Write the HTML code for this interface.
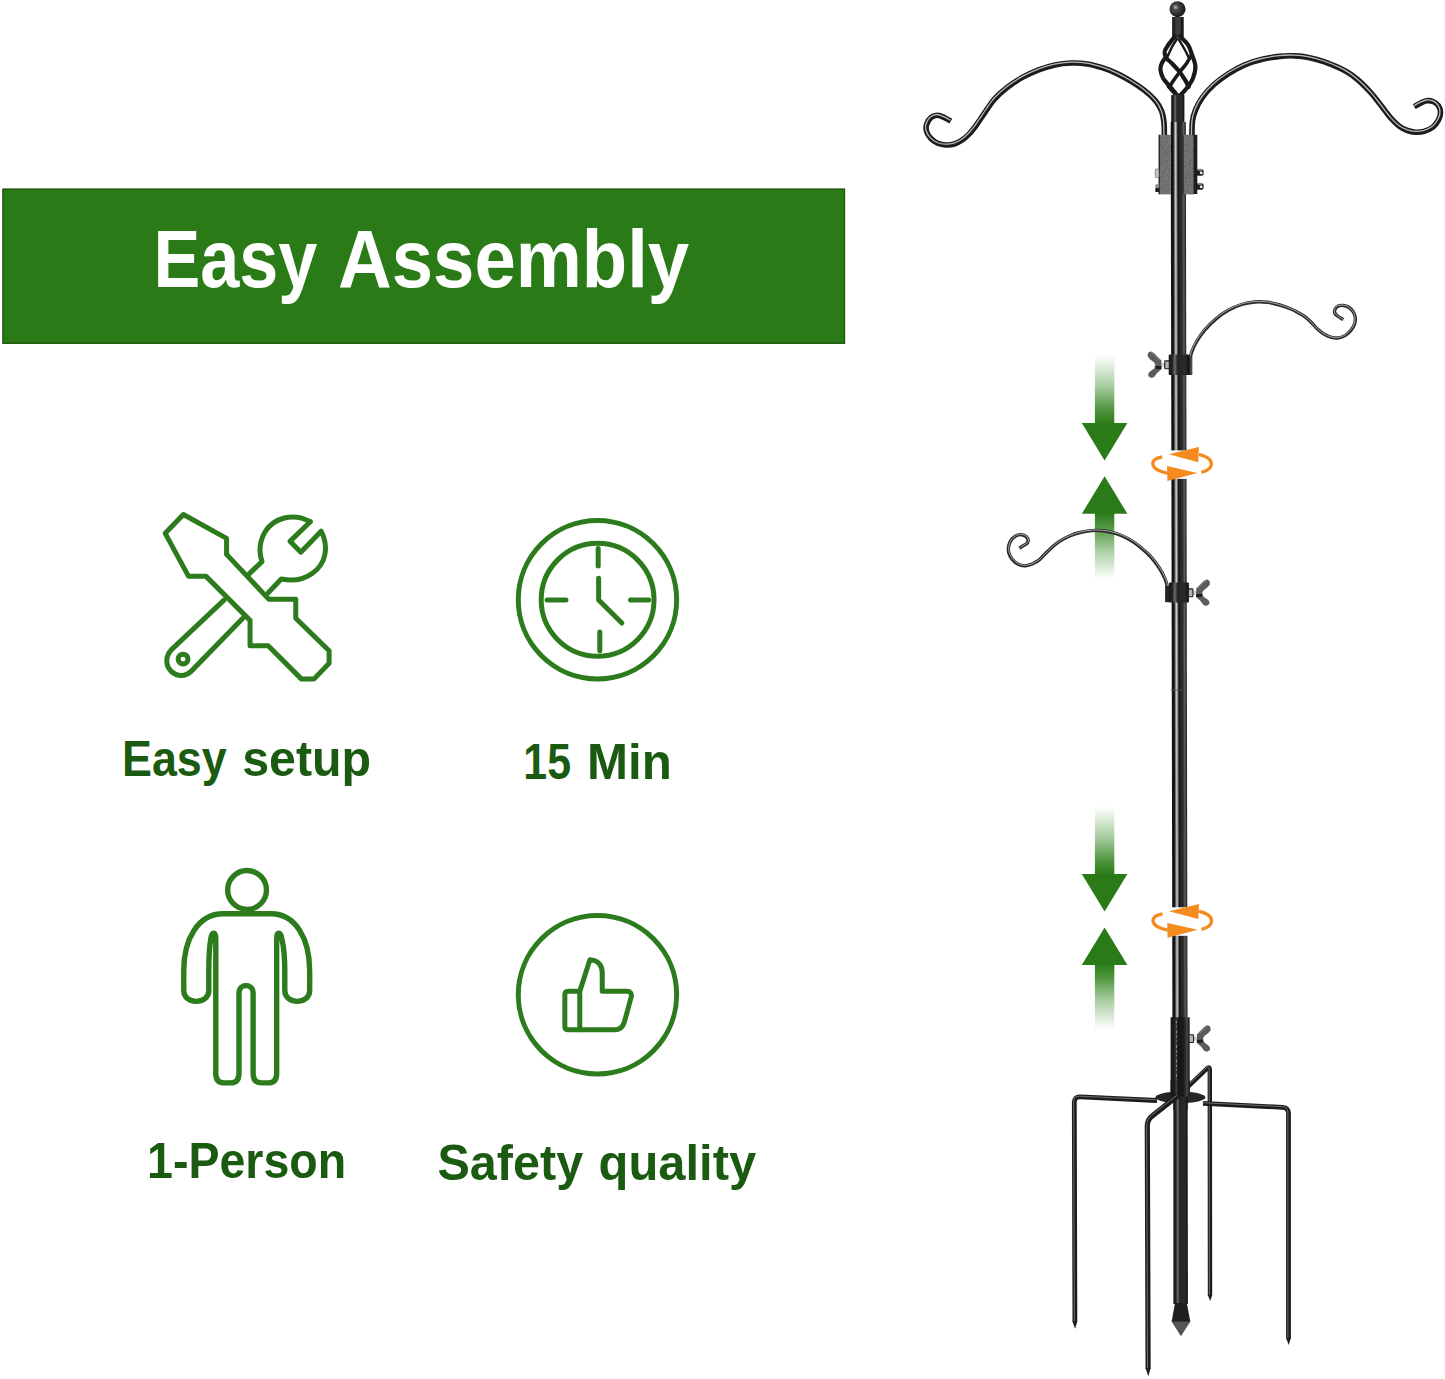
<!DOCTYPE html>
<html lang="en">
<head>
<meta charset="utf-8">
<title>Easy Assembly</title>
<style>
html,body{margin:0;padding:0;background:#fff;}
body{width:1445px;height:1379px;overflow:hidden;font-family:"Liberation Sans",sans-serif;}
svg{display:block;}
text{font-family:"Liberation Sans",sans-serif;font-weight:bold;font-kerning:none;}
</style>
</head>
<body>
<svg width="1445" height="1379" viewBox="0 0 1445 1379">
<rect x="2.4" y="188.6" width="842.7" height="155.3" fill="#2b7a18"/>
<rect x="3.1" y="189.3" width="841.3" height="153.9" fill="none" stroke="#1e5a10" stroke-width="1.4"/>
<text y="287.3" font-size="81.5" fill="#ffffff" ><tspan x="153.4" textLength="163.87" lengthAdjust="spacingAndGlyphs">Easy</tspan> <tspan x="338.1" textLength="351.05" lengthAdjust="spacingAndGlyphs">Assembly</tspan></text>
<text y="775.6" font-size="49.5" fill="#1b5a11" ><tspan x="122" textLength="104.74" lengthAdjust="spacingAndGlyphs">Easy</tspan> <tspan x="242.2" textLength="128.88" lengthAdjust="spacingAndGlyphs">setup</tspan></text>
<text y="778.6" font-size="50.5" fill="#1b5a11" ><tspan x="523.3" textLength="47.69" lengthAdjust="spacingAndGlyphs">15</tspan> <tspan x="587.1" textLength="84.75" lengthAdjust="spacingAndGlyphs">Min</tspan></text>
<text y="1178.2" font-size="50" fill="#1b5a11" ><tspan x="147" textLength="199.22" lengthAdjust="spacingAndGlyphs">1-Person</tspan></text>
<text y="1179.6" font-size="50" fill="#1b5a11" ><tspan x="437.5" textLength="145.66" lengthAdjust="spacingAndGlyphs">Safety</tspan> <tspan x="598.6" textLength="157.57" lengthAdjust="spacingAndGlyphs">quality</tspan></text>
<g fill="none" stroke="#2c7b1d" stroke-width="5" stroke-linejoin="round" stroke-linecap="round">
<g transform="translate(150,500) scale(0.14503)" stroke-width="34.5">
<path d="M1105 150 C990 85 850 120 790 225 C755 290 750 360 772 425 L685 508"/>
<path d="M1105 150 L965 285 L1040 360 L1180 215 C1235 320 1215 440 1120 505 C1060 550 980 560 905 545 L815 640"/>
<path d="M510 690 L150 1030 C105 1075 105 1140 145 1180 C185 1220 245 1220 285 1180 L640 815"/>
<circle cx="228" cy="1097" r="34"/>
<path d="M230 100 L528 265 L528 375 L820 685 L1005 685 L1005 815 L1235 1040 L1235 1125 L1130 1235 L1045 1235 L815 1005 L690 1005 L690 830 L385 525 L265 525 L105 230 Z"/>
</g>
</g>
<g fill="none" stroke="#2c7b1d" stroke-width="5" stroke-linejoin="round" stroke-linecap="round">
<g transform="translate(500,500) scale(0.14503)" stroke-width="34.5">
<circle cx="672" cy="688" r="546"/>
<circle cx="673" cy="688" r="389"/>
<path d="M677 335 V455 M688 910 V1040 M325 690 H455 M900 690 H1025"/>
<path d="M680 540 V690 L840 848"/>
</g>
</g>
<g fill="none" stroke="#2c7b1d" stroke-width="5" stroke-linejoin="round" stroke-linecap="round">
<g transform="translate(140,850) scale(0.18852)" stroke-width="28.6">
<circle cx="568" cy="212" r="103"/>
<path d="M568 338 H440 C310 338 232 470 232 640 V745 C232 822 365 822 365 745 V640 C365 560 368 510 376 470 C381 432 402 432 402 470 V1185 Q402 1235 447 1235 H480 Q525 1235 525 1185 V760 C525 705 600 705 600 760 V1185 Q600 1235 645 1235 H680 Q725 1235 725 1185 V470 C725 432 746 432 752 470 C762 510 768 560 768 640 V745 C768 822 900 822 900 745 V640 C900 470 825 338 695 338 Z"/>
</g>
</g>
<g fill="none" stroke="#2c7b1d" stroke-width="5" stroke-linejoin="round" stroke-linecap="round">
<g transform="translate(500,900) scale(0.14503)" stroke-width="34.5">
<circle cx="672" cy="653" r="546"/>
<path d="M550 630 H470 C455 630 447 640 447 655 V870 C447 885 455 895 470 895 H550"/>
<path d="M550 895 V630 L620 412 C670 415 705 445 705 500 V630 H875 C898 630 910 645 905 668 L858 840 C848 875 825 895 790 895 Z"/>
</g>
</g>
<defs>
<linearGradient id="pg" x1="0" x2="1" y1="0" y2="0"><stop offset="0" stop-color="#1c1c1c"/><stop offset="0.06" stop-color="#0e0e0e"/><stop offset="0.17" stop-color="#1a1a1a"/><stop offset="0.25" stop-color="#868686"/><stop offset="0.32" stop-color="#cccccc"/><stop offset="0.39" stop-color="#868686"/><stop offset="0.47" stop-color="#121212"/><stop offset="0.56" stop-color="#222222"/><stop offset="0.74" stop-color="#303030"/><stop offset="0.85" stop-color="#5c5c5c"/><stop offset="0.93" stop-color="#3c3c3c"/><stop offset="1" stop-color="#181818"/></linearGradient>
<linearGradient id="pg2" x1="0" x2="1" y1="0" y2="0"><stop offset="0" stop-color="#161616"/><stop offset="0.18" stop-color="#262626"/><stop offset="0.3" stop-color="#6c6c6c"/><stop offset="0.43" stop-color="#262626"/><stop offset="0.8" stop-color="#2a2a2a"/><stop offset="1" stop-color="#101010"/></linearGradient>
<linearGradient id="pg3" x1="0" x2="1" y1="0" y2="0"><stop offset="0" stop-color="#161616"/><stop offset="0.2" stop-color="#1c1c1c"/><stop offset="0.3" stop-color="#3c3c3c"/><stop offset="0.42" stop-color="#141414"/><stop offset="0.7" stop-color="#1c1c1c"/><stop offset="0.86" stop-color="#474747"/><stop offset="1" stop-color="#161616"/></linearGradient>
<linearGradient id="ga" x1="0" x2="0" y1="0" y2="1"><stop offset="0" stop-color="#31861d" stop-opacity="0"/><stop offset="0.12" stop-color="#31861d" stop-opacity="0.1"/><stop offset="0.45" stop-color="#31861d" stop-opacity="0.42"/><stop offset="0.8" stop-color="#2f821b" stop-opacity="0.85"/><stop offset="1" stop-color="#2b7a18" stop-opacity="1"/></linearGradient>
<linearGradient id="gb" x1="0" x2="0" y1="1" y2="0"><stop offset="0" stop-color="#31861d" stop-opacity="0"/><stop offset="0.12" stop-color="#31861d" stop-opacity="0.1"/><stop offset="0.45" stop-color="#31861d" stop-opacity="0.42"/><stop offset="0.8" stop-color="#2f821b" stop-opacity="0.85"/><stop offset="1" stop-color="#2b7a18" stop-opacity="1"/></linearGradient>
<radialGradient id="ball" cx="0.38" cy="0.38" r="0.7"><stop offset="0" stop-color="#bdbdbd"/><stop offset="0.25" stop-color="#4a4a4a"/><stop offset="1" stop-color="#0d0d0d"/></radialGradient>
<pattern id="tex" width="3" height="3" patternUnits="userSpaceOnUse"><rect width="3" height="3" fill="#6a6a6a"/><rect width="1.5" height="1.5" fill="#3c3c3c"/><rect x="1.5" y="1.5" width="1.5" height="1.5" fill="#8c8c8c"/></pattern>
<filter id="noise" x="0" y="0" width="1" height="1"><feTurbulence type="fractalNoise" baseFrequency="0.7" numOctaves="2" seed="7" result="n"/><feColorMatrix in="n" type="matrix" values="0 0 0 0 0.13  0 0 0 0 0.13  0 0 0 0 0.13  2.6 2.6 0 0 -2.2" result="g"/><feComposite in="g" in2="SourceGraphic" operator="in" result="sp"/><feMerge><feMergeNode in="SourceGraphic"/><feMergeNode in="sp"/></feMerge></filter>
</defs>
<rect x="1094.9" y="355" width="19.4" height="69" fill="url(#ga)"/>
<path d="M1081.8 423H1127.4L1104.6 460.4Z" fill="#2b7a18"/>
<rect x="1094.9" y="512.8" width="19.4" height="67.2" fill="url(#gb)"/>
<path d="M1081.8 513.8H1127.4L1104.6 476.2Z" fill="#2b7a18"/>
<rect x="1094.9" y="806" width="19.4" height="69.1" fill="url(#ga)"/>
<path d="M1081.8 874.1H1127.4L1104.6 911.5Z" fill="#2b7a18"/>
<rect x="1094.9" y="963.9" width="19.4" height="66.1" fill="url(#gb)"/>
<path d="M1081.8 964.9H1127.4L1104.6 927.5Z" fill="#2b7a18"/>
<path d="M950.8 121.1C949.8 120.5 946.8 118.7 944.6 117.7C942.4 116.7 940 115.3 937.7 115.3C935.4 115.3 932.6 116.2 930.8 117.7C928.9 119.2 927.3 122.3 926.6 124.6C925.9 126.9 925.9 129.2 926.6 131.5C927.3 133.8 928.9 136.4 930.8 138.4C932.6 140.4 935.2 142.2 937.7 143.3C940.2 144.4 943.2 144.9 946 145C948.8 145.1 951.5 144.9 954.3 144C957.1 143.1 960.1 141.5 962.6 139.8C965.1 138.1 967.3 135.9 969.5 133.6C971.7 131.3 973.5 129 975.7 126C977.9 123 980.5 118.9 982.7 115.6C985 112.3 987.2 109 989.2 106.2C991.2 103.4 992 101.7 995 98.5C998 95.3 1002.9 90.8 1007.5 87.3C1012.1 83.8 1017.2 80.3 1022.4 77.4C1027.6 74.5 1033.2 72 1038.6 69.9C1044 67.8 1049.4 66.1 1054.8 64.9C1060.2 63.8 1065.6 63.2 1071 63C1076.4 62.8 1082 63.1 1087.2 63.9C1092.4 64.7 1097.1 66.1 1102.1 67.7C1107.1 69.3 1112.3 71.4 1117.1 73.6C1121.9 75.8 1126.2 78.3 1130.8 81.1C1135.4 83.9 1140.3 87.1 1144.5 90.4C1148.7 93.7 1152.9 97.6 1155.7 101C1158.5 104.4 1160.2 107.5 1161.6 111C1163 114.5 1163.5 117.9 1164 122.2C1164.5 126.5 1164.3 134.5 1164.4 137" fill="none" stroke="#1c1c1c" stroke-width="5.6" stroke-linecap="butt" stroke-linejoin="round"/>
<path d="M950.8 121.1C949.8 120.5 946.8 118.7 944.6 117.7C942.4 116.7 940 115.3 937.7 115.3C935.4 115.3 932.6 116.2 930.8 117.7C928.9 119.2 927.3 122.3 926.6 124.6C925.9 126.9 925.9 129.2 926.6 131.5C927.3 133.8 928.9 136.4 930.8 138.4C932.6 140.4 935.2 142.2 937.7 143.3C940.2 144.4 943.2 144.9 946 145C948.8 145.1 951.5 144.9 954.3 144C957.1 143.1 960.1 141.5 962.6 139.8C965.1 138.1 967.3 135.9 969.5 133.6C971.7 131.3 973.5 129 975.7 126C977.9 123 980.5 118.9 982.7 115.6C985 112.3 987.2 109 989.2 106.2C991.2 103.4 992 101.7 995 98.5C998 95.3 1002.9 90.8 1007.5 87.3C1012.1 83.8 1017.2 80.3 1022.4 77.4C1027.6 74.5 1033.2 72 1038.6 69.9C1044 67.8 1049.4 66.1 1054.8 64.9C1060.2 63.8 1065.6 63.2 1071 63C1076.4 62.8 1082 63.1 1087.2 63.9C1092.4 64.7 1097.1 66.1 1102.1 67.7C1107.1 69.3 1112.3 71.4 1117.1 73.6C1121.9 75.8 1126.2 78.3 1130.8 81.1C1135.4 83.9 1140.3 87.1 1144.5 90.4C1148.7 93.7 1152.9 97.6 1155.7 101C1158.5 104.4 1160.2 107.5 1161.6 111C1163 114.5 1163.5 117.9 1164 122.2C1164.5 126.5 1164.3 134.5 1164.4 137" fill="none" stroke="#e0e0e0" stroke-opacity="0.8" stroke-width="1.3" stroke-linecap="butt" transform="translate(-0.5,-0.8)"/>
<path d="M1191.9 137C1192 134.3 1191.9 125.5 1192.5 121C1193.1 116.5 1193.9 113.8 1195.6 109.8C1197.2 105.8 1199.4 101.5 1202.4 97.3C1205.4 93.1 1209.3 88.8 1213.7 84.8C1218.1 80.8 1223.4 76.9 1228.6 73.6C1233.8 70.3 1239.2 67.3 1244.8 64.9C1250.4 62.5 1256.4 60.7 1262.2 59.3C1268 57.9 1274.3 57 1279.7 56.4C1285.1 55.8 1289.6 55.7 1294.6 55.9C1299.6 56.1 1304.6 56.7 1309.6 57.7C1314.6 58.7 1319.5 60.1 1324.5 61.8C1329.5 63.5 1335.4 66.1 1339.5 68C1343.6 69.9 1346 71.3 1349 73.2C1352 75.1 1354.9 77.4 1357.5 79.5C1360.1 81.6 1362 83.5 1364.5 86C1367 88.5 1369.8 91.4 1372.2 94.2C1374.6 97 1376.8 100 1379 102.8C1381.2 105.6 1383.2 108.4 1385.3 111.1C1387.4 113.8 1389.5 116.7 1391.8 119.2C1394.1 121.7 1396.7 124.3 1399.3 126.2C1401.9 128.1 1404.6 129.5 1407.3 130.5C1410 131.5 1412.7 132.1 1415.6 132.2C1418.5 132.3 1421.7 132 1424.6 131.2C1427.5 130.3 1430.6 128.9 1432.9 127.1C1435.2 125.2 1437.1 122.5 1438.4 120.1C1439.7 117.7 1440.5 114.9 1440.5 112.5C1440.5 110.1 1439.7 107.4 1438.4 105.6C1437.1 103.8 1434.9 102.3 1432.9 101.5C1431 100.7 1428.8 100.5 1426.7 100.8C1424.6 101.1 1422.5 102.2 1420.4 103.2C1418.3 104.2 1415.2 106 1414.2 106.6" fill="none" stroke="#1c1c1c" stroke-width="5.6" stroke-linecap="butt" stroke-linejoin="round"/>
<path d="M1191.9 137C1192 134.3 1191.9 125.5 1192.5 121C1193.1 116.5 1193.9 113.8 1195.6 109.8C1197.2 105.8 1199.4 101.5 1202.4 97.3C1205.4 93.1 1209.3 88.8 1213.7 84.8C1218.1 80.8 1223.4 76.9 1228.6 73.6C1233.8 70.3 1239.2 67.3 1244.8 64.9C1250.4 62.5 1256.4 60.7 1262.2 59.3C1268 57.9 1274.3 57 1279.7 56.4C1285.1 55.8 1289.6 55.7 1294.6 55.9C1299.6 56.1 1304.6 56.7 1309.6 57.7C1314.6 58.7 1319.5 60.1 1324.5 61.8C1329.5 63.5 1335.4 66.1 1339.5 68C1343.6 69.9 1346 71.3 1349 73.2C1352 75.1 1354.9 77.4 1357.5 79.5C1360.1 81.6 1362 83.5 1364.5 86C1367 88.5 1369.8 91.4 1372.2 94.2C1374.6 97 1376.8 100 1379 102.8C1381.2 105.6 1383.2 108.4 1385.3 111.1C1387.4 113.8 1389.5 116.7 1391.8 119.2C1394.1 121.7 1396.7 124.3 1399.3 126.2C1401.9 128.1 1404.6 129.5 1407.3 130.5C1410 131.5 1412.7 132.1 1415.6 132.2C1418.5 132.3 1421.7 132 1424.6 131.2C1427.5 130.3 1430.6 128.9 1432.9 127.1C1435.2 125.2 1437.1 122.5 1438.4 120.1C1439.7 117.7 1440.5 114.9 1440.5 112.5C1440.5 110.1 1439.7 107.4 1438.4 105.6C1437.1 103.8 1434.9 102.3 1432.9 101.5C1431 100.7 1428.8 100.5 1426.7 100.8C1424.6 101.1 1422.5 102.2 1420.4 103.2C1418.3 104.2 1415.2 106 1414.2 106.6" fill="none" stroke="#e0e0e0" stroke-opacity="0.8" stroke-width="1.3" stroke-linecap="butt" transform="translate(-0.5,-0.8)"/>
<path d="M1190.4 374C1190.3 371.8 1189.8 364.2 1190 360.6C1190.2 357 1190.5 355.5 1191.6 352.3C1192.7 349.1 1194.4 345.2 1196.6 341.5C1198.8 337.8 1201.7 333.6 1204.9 329.9C1208.1 326.2 1211.8 322.4 1215.7 319.1C1219.6 315.8 1223.9 312.7 1228.2 310.3C1232.5 307.9 1237.1 305.9 1241.5 304.5C1245.9 303.1 1250.5 302.4 1254.8 302C1259.1 301.6 1263 301.8 1267.2 302.3C1271.4 302.8 1275.9 303.9 1279.7 305C1283.5 306.1 1287.4 307.6 1290.3 308.8C1293.2 310 1294.7 310.7 1297 312C1299.3 313.3 1302 314.6 1304.4 316.4C1306.8 318.2 1309.4 320.5 1311.6 322.7C1313.8 324.9 1315.6 327.4 1317.7 329.3C1319.8 331.2 1322 333 1324.3 334.3C1326.6 335.6 1329.1 336.7 1331.5 337.3C1333.9 337.9 1336.4 338.2 1338.7 337.9C1341 337.6 1343.4 336.6 1345.4 335.4C1347.4 334.1 1349.4 332.2 1350.9 330.4C1352.4 328.5 1353.8 326.4 1354.5 324.3C1355.2 322.2 1355.5 319.8 1355.3 317.7C1355.1 315.6 1354.2 313.4 1353.1 311.6C1352 309.9 1350.3 308.2 1348.7 307.2C1347.1 306.2 1345 305.7 1343.2 305.5C1341.5 305.3 1339.6 305.5 1338.2 306.1C1336.8 306.8 1335.5 308.2 1334.9 309.4C1334.4 310.6 1334.5 312.2 1334.9 313.3C1335.4 314.4 1336.2 314.9 1337.6 316C1339 317.1 1342.3 319 1343.2 319.6" fill="none" stroke="#2a2a2a" stroke-width="3.4" stroke-linecap="butt" stroke-linejoin="round"/>
<path d="M1190.4 374C1190.3 371.8 1189.8 364.2 1190 360.6C1190.2 357 1190.5 355.5 1191.6 352.3C1192.7 349.1 1194.4 345.2 1196.6 341.5C1198.8 337.8 1201.7 333.6 1204.9 329.9C1208.1 326.2 1211.8 322.4 1215.7 319.1C1219.6 315.8 1223.9 312.7 1228.2 310.3C1232.5 307.9 1237.1 305.9 1241.5 304.5C1245.9 303.1 1250.5 302.4 1254.8 302C1259.1 301.6 1263 301.8 1267.2 302.3C1271.4 302.8 1275.9 303.9 1279.7 305C1283.5 306.1 1287.4 307.6 1290.3 308.8C1293.2 310 1294.7 310.7 1297 312C1299.3 313.3 1302 314.6 1304.4 316.4C1306.8 318.2 1309.4 320.5 1311.6 322.7C1313.8 324.9 1315.6 327.4 1317.7 329.3C1319.8 331.2 1322 333 1324.3 334.3C1326.6 335.6 1329.1 336.7 1331.5 337.3C1333.9 337.9 1336.4 338.2 1338.7 337.9C1341 337.6 1343.4 336.6 1345.4 335.4C1347.4 334.1 1349.4 332.2 1350.9 330.4C1352.4 328.5 1353.8 326.4 1354.5 324.3C1355.2 322.2 1355.5 319.8 1355.3 317.7C1355.1 315.6 1354.2 313.4 1353.1 311.6C1352 309.9 1350.3 308.2 1348.7 307.2C1347.1 306.2 1345 305.7 1343.2 305.5C1341.5 305.3 1339.6 305.5 1338.2 306.1C1336.8 306.8 1335.5 308.2 1334.9 309.4C1334.4 310.6 1334.5 312.2 1334.9 313.3C1335.4 314.4 1336.2 314.9 1337.6 316C1339 317.1 1342.3 319 1343.2 319.6" fill="none" stroke="#d8d8d8" stroke-opacity="0.8" stroke-width="0.9" stroke-linecap="butt" transform="translate(-0.3,-0.45)"/>
<path d="M1167.1 602C1167.1 599.4 1167.5 590.4 1167.1 586.4C1166.7 582.4 1166.1 581.3 1164.7 578.1C1163.3 574.9 1161.2 570.9 1158.8 567.3C1156.4 563.7 1153.7 560 1150.5 556.5C1147.3 553 1143.4 549.6 1139.7 546.6C1136 543.6 1132.1 540.9 1128.1 538.7C1124.1 536.5 1119.8 534.6 1115.6 533.3C1111.4 532 1107.2 531.2 1103.2 530.8C1099.2 530.3 1095.5 530.3 1091.6 530.6C1087.7 530.9 1083.7 531.6 1079.9 532.5C1076.2 533.4 1072.5 534.7 1069.1 536.2C1065.7 537.7 1062.4 539.4 1059.5 541.3C1056.6 543.2 1054 545.5 1051.5 547.7C1049 549.9 1046.8 552.3 1044.8 554.3C1042.8 556.3 1041.3 558.3 1039.3 559.9C1037.3 561.5 1035 562.7 1032.7 563.7C1030.4 564.7 1027.9 565.6 1025.5 565.7C1023.1 565.8 1020.5 565.4 1018.3 564.3C1016.1 563.2 1013.8 561.2 1012.2 559.3C1010.6 557.4 1009.4 555 1008.8 552.7C1008.2 550.4 1008.3 547.7 1008.8 545.5C1009.3 543.3 1010.3 541.1 1011.6 539.4C1012.9 537.7 1014.9 536.3 1016.6 535.5C1018.3 534.7 1020 534.5 1021.6 534.7C1023.2 534.9 1024.9 535.6 1026 536.6C1027.1 537.6 1028.1 539.3 1028.2 540.5C1028.3 541.7 1027.5 542.9 1026.6 543.8C1025.7 544.7 1023.9 545.3 1022.7 546C1021.5 546.7 1020 547.8 1019.4 548.2" fill="none" stroke="#2a2a2a" stroke-width="3.4" stroke-linecap="butt" stroke-linejoin="round"/>
<path d="M1167.1 602C1167.1 599.4 1167.5 590.4 1167.1 586.4C1166.7 582.4 1166.1 581.3 1164.7 578.1C1163.3 574.9 1161.2 570.9 1158.8 567.3C1156.4 563.7 1153.7 560 1150.5 556.5C1147.3 553 1143.4 549.6 1139.7 546.6C1136 543.6 1132.1 540.9 1128.1 538.7C1124.1 536.5 1119.8 534.6 1115.6 533.3C1111.4 532 1107.2 531.2 1103.2 530.8C1099.2 530.3 1095.5 530.3 1091.6 530.6C1087.7 530.9 1083.7 531.6 1079.9 532.5C1076.2 533.4 1072.5 534.7 1069.1 536.2C1065.7 537.7 1062.4 539.4 1059.5 541.3C1056.6 543.2 1054 545.5 1051.5 547.7C1049 549.9 1046.8 552.3 1044.8 554.3C1042.8 556.3 1041.3 558.3 1039.3 559.9C1037.3 561.5 1035 562.7 1032.7 563.7C1030.4 564.7 1027.9 565.6 1025.5 565.7C1023.1 565.8 1020.5 565.4 1018.3 564.3C1016.1 563.2 1013.8 561.2 1012.2 559.3C1010.6 557.4 1009.4 555 1008.8 552.7C1008.2 550.4 1008.3 547.7 1008.8 545.5C1009.3 543.3 1010.3 541.1 1011.6 539.4C1012.9 537.7 1014.9 536.3 1016.6 535.5C1018.3 534.7 1020 534.5 1021.6 534.7C1023.2 534.9 1024.9 535.6 1026 536.6C1027.1 537.6 1028.1 539.3 1028.2 540.5C1028.3 541.7 1027.5 542.9 1026.6 543.8C1025.7 544.7 1023.9 545.3 1022.7 546C1021.5 546.7 1020 547.8 1019.4 548.2" fill="none" stroke="#d8d8d8" stroke-opacity="0.8" stroke-width="0.9" stroke-linecap="butt" transform="translate(0.3,-0.45)"/>
<path d="M1186 1088.6L1206.6 1068.8Q1209.8 1065.7 1209.8 1070.2L1210 1295.4" fill="none" stroke="#1c1c1c" stroke-width="4.4" stroke-linejoin="round"/>
<path d="M1207.8 1294.9H1212.2L1210.2 1300.9Z" fill="#1c1c1c"/>
<path d="M1186 1088.6L1206.6 1068.8Q1209.8 1065.7 1209.8 1070.2L1210 1295.4" fill="none" stroke="#9a9a9a" stroke-opacity="0.65" stroke-width="1" transform="translate(-0.6,-0.7)"/>
<rect x="1172.3" y="17" width="11.2" height="20" fill="#3d3d3d"/>
<rect x="1172.3" y="17" width="3" height="20" fill="#222"/>
<rect x="1180.8" y="17" width="2.7" height="20" fill="#1a1a1a"/>
<circle cx="1177.5" cy="9.2" r="8" fill="url(#ball)"/>
<path d="M1175.1 36.3C1173.9 37.8 1169.7 42.9 1167.9 45.5C1166.2 48.1 1164.8 49.8 1164.6 51.8C1164.3 53.9 1165.1 55.9 1166.3 57.8C1167.5 59.8 1169.6 61 1171.9 63.4C1174.2 65.8 1177.6 69.3 1179.9 72.2C1182.1 75 1184 78.1 1185.5 80.6C1186.9 83 1188.1 85.9 1188.7 86.9" fill="none" stroke="#1a1a1a" stroke-width="4.2" stroke-linecap="round"/>
<path d="M1166.7 55.8C1165.9 57 1163 60.8 1161.9 63C1160.9 65.3 1160.2 66.9 1160.4 69.4C1160.6 71.9 1161.5 75.2 1163.1 78.2C1164.8 81.1 1167.9 84 1170.3 86.9C1172.7 89.9 1176.3 94.3 1177.5 95.7" fill="none" stroke="#1a1a1a" stroke-width="4.2" stroke-linecap="round"/>
<path d="M1179.9 36.3C1181.2 37.7 1185.9 41.7 1187.9 44.7C1189.9 47.7 1190.6 50.6 1191.8 54.2C1193.1 57.8 1195.2 62.2 1195.4 66.2C1195.6 70.2 1194.4 74.6 1193 78.2C1191.6 81.8 1189.3 84.8 1187.1 87.7C1184.9 90.7 1181.1 94.4 1179.9 95.7" fill="none" stroke="#1a1a1a" stroke-width="4.2" stroke-linecap="round"/>
<path d="M1191.4 55C1190.6 56.5 1188.2 61 1186.3 63.8C1184.3 66.6 1182 69 1179.9 71.8C1177.8 74.6 1175.2 78 1173.5 80.6C1171.8 83.1 1170.2 85.9 1169.5 86.9" fill="none" stroke="#1a1a1a" stroke-width="3.6" stroke-linecap="round"/>
<path d="M1177.5 38.3C1176.6 39.7 1173.5 44.1 1171.9 47.1C1170.3 50 1168.6 54.4 1167.9 55.8" fill="none" stroke="#1a1a1a" stroke-width="2.4" stroke-linecap="round"/>
<path d="M1179.1 39.9C1180 41.5 1183.1 46.5 1184.7 49.5C1186.3 52.4 1188 56.1 1188.7 57.4" fill="none" stroke="#1a1a1a" stroke-width="2.4" stroke-linecap="round"/>
<path d="M1168.7 86.1C1169.5 87.1 1172 90 1173.5 91.7C1175 93.5 1176.8 95.7 1177.5 96.5" fill="none" stroke="#1a1a1a" stroke-width="4.4" stroke-linecap="round"/>
<path d="M1171.2 95H1184.4V123H1171.2Z" fill="url(#pg2)"/>
<rect x="1170.7" y="122" width="15.1" height="896" fill="url(#pg)" transform="matrix(1 0 0.0019 1 -0.2318 0)"/>
<path d="M1170.8 690H1187" stroke="#555" stroke-width="0.8"/>
<path d="M1170.6 1017.2H1189.7V1096H1170.6Z" fill="url(#pg3)"/>
<path d="M1176.4 1021V1092" stroke="#a8a8a8" stroke-width="1.1" stroke-dasharray="2.2 2.6 1.2 3.4 3 2.2" stroke-opacity="0.75"/>
<path d="M1173.4 1095H1187.6L1187.9 1304H1173.4Z" fill="url(#pg2)"/>
<path d="M1175 1303H1186.8L1190.4 1322H1171.6Z" fill="#1f1f1f"/>
<path d="M1171.6 1321.5H1190.4L1180.9 1336.3Z" fill="#555"/>
<ellipse cx="1180.4" cy="1097.4" rx="25" ry="5.8" fill="#262626"/>
<path d="M1173.4 1095H1187.6V1110H1173.4Z" fill="url(#pg2)"/>
<path d="M1170.6 1080H1189.7V1096.5H1170.6Z" fill="url(#pg3)"/>
<path d="M1157 1100.5L1080.3 1096.9Q1074.3 1096.6 1074.3 1102.6L1074.9 1322" fill="none" stroke="#1c1c1c" stroke-width="4.8" stroke-linejoin="round"/>
<path d="M1072.5 1321.5H1077.3L1075.1 1328.8Z" fill="#1c1c1c"/>
<path d="M1157 1100.5L1080.3 1096.9Q1074.3 1096.6 1074.3 1102.6L1074.9 1322" fill="none" stroke="#9a9a9a" stroke-opacity="0.65" stroke-width="1" transform="translate(-0.6,-0.7)"/>
<path d="M1203 1103.4L1282.5 1107.3Q1288.5 1107.6 1288.5 1113.6L1288.5 1338.6" fill="none" stroke="#1c1c1c" stroke-width="4.8" stroke-linejoin="round"/>
<path d="M1286.1 1338.1H1290.9L1288.7 1345.1Z" fill="#1c1c1c"/>
<path d="M1203 1103.4L1282.5 1107.3Q1288.5 1107.6 1288.5 1113.6L1288.5 1338.6" fill="none" stroke="#9a9a9a" stroke-opacity="0.65" stroke-width="1" transform="translate(-0.6,-0.7)"/>
<path d="M1178 1095.6L1152 1116.1Q1147.3 1119.8 1147.3 1125.8L1148.1 1368.5" fill="none" stroke="#1c1c1c" stroke-width="5.2" stroke-linejoin="round"/>
<path d="M1145.5 1368H1150.7L1148.3 1376.2Z" fill="#1c1c1c"/>
<path d="M1178 1095.6L1152 1116.1Q1147.3 1119.8 1147.3 1125.8L1148.1 1368.5" fill="none" stroke="#9a9a9a" stroke-opacity="0.65" stroke-width="1" transform="translate(-0.6,-0.7)"/>
<g filter="url(#noise)">
<rect x="1158.9" y="134.8" width="11.9" height="59.5" fill="#787878"/>
<rect x="1183" y="134.8" width="10.6" height="59.5" fill="#787878"/>
</g>
<rect x="1158.6" y="134.8" width="1.2" height="59.5" fill="#1c1c1c"/>
<rect x="1193.4" y="134.8" width="3.9" height="59.2" fill="#1c1c1c"/>
<rect x="1182.6" y="134.8" width="1.2" height="59.5" fill="#1a1a1a" fill-opacity="0.7"/>
<rect x="1155.2" y="169" width="3.8" height="8.6" rx="1" fill="#c4c4c4" stroke="#666" stroke-width="0.6"/>
<rect x="1155.4" y="184.2" width="3.8" height="7.8" rx="1" fill="#8a8a8a"/>
<rect x="1155.4" y="188" width="3.8" height="4" rx="1" fill="#1a1a1a"/>
<rect x="1196" y="169.2" width="7.6" height="6.6" rx="2" fill="#1c1c1c"/>
<rect x="1197.5" y="168.79999999999998" width="5" height="2" rx="1" fill="#8c8c8c"/>
<circle cx="1201.2" cy="172.79999999999998" r="1.4" fill="#f4f4f4"/>
<rect x="1196" y="183.2" width="7.6" height="6.6" rx="2" fill="#1c1c1c"/>
<rect x="1197.5" y="182.79999999999998" width="5" height="2" rx="1" fill="#8c8c8c"/>
<circle cx="1201.2" cy="186.79999999999998" r="1.4" fill="#f4f4f4"/>
<rect x="1188" y="356.5" width="4.3" height="18.5" rx="0.8" fill="#2a2a2a"/>
<rect x="1190.6" y="357" width="0.9" height="17.5" fill="#8a8a8a" fill-opacity="0.7"/>
<rect x="1168.7" y="354.5" width="20.6" height="20.5" rx="1" fill="url(#pg2)"/>
<rect x="1165.2" y="586" width="4.2" height="16.2" rx="0.8" fill="#262626"/>
<rect x="1168.9" y="582.6" width="20" height="19.9" rx="1" fill="url(#pg2)"/>
<g transform="translate(1168.7,364.8) scale(-1,1)">
<rect x="3.5" y="-1.8" width="5" height="3.6" fill="#d4d4d4"/>
<rect x="-0.6" y="-3.9" width="4.6" height="7.8" rx="0.8" fill="#b4b4b4" stroke="#1e1e1e" stroke-width="1.1"/>
<path d="M7.3 -4.4L14.5 -11.6L17.4 -13.3Q20.6 -13 20.9 -10.6L21 -8.2L18.4 -5.3L14.5 -2.4L13.4 0L14.5 3.6L19.4 7.3Q21.3 9.6 20.3 11.4L17.4 13.1L14.5 12.1L11.6 8.2L7.3 4.4Z" fill="#5c5c5c"/>
<path d="M7.3 1.2H13.2L12.6 4.2H7.3Z" fill="#1e1e1e"/>
<path d="M9 -4.6L15 -10.6L17.6 -12" fill="none" stroke="#8a8a8a" stroke-width="0.9"/>
</g>
<g transform="translate(1188.9,592.8) scale(1,1)">
<rect x="3.5" y="-1.8" width="5" height="3.6" fill="#d4d4d4"/>
<rect x="-0.6" y="-3.9" width="4.6" height="7.8" rx="0.8" fill="#b4b4b4" stroke="#1e1e1e" stroke-width="1.1"/>
<path d="M7.3 -4.4L14.5 -11.6L17.4 -13.3Q20.6 -13 20.9 -10.6L21 -8.2L18.4 -5.3L14.5 -2.4L13.4 0L14.5 3.6L19.4 7.3Q21.3 9.6 20.3 11.4L17.4 13.1L14.5 12.1L11.6 8.2L7.3 4.4Z" fill="#5c5c5c"/>
<path d="M7.3 1.2H13.2L12.6 4.2H7.3Z" fill="#1e1e1e"/>
<path d="M9 -4.6L15 -10.6L17.6 -12" fill="none" stroke="#8a8a8a" stroke-width="0.9"/>
</g>
<g transform="translate(1189.6,1038.6) scale(1,1)">
<rect x="3.5" y="-1.8" width="5" height="3.6" fill="#d4d4d4"/>
<rect x="-0.6" y="-3.9" width="4.6" height="7.8" rx="0.8" fill="#b4b4b4" stroke="#1e1e1e" stroke-width="1.1"/>
<path d="M7.3 -4.4L14.5 -11.6L17.4 -13.3Q20.6 -13 20.9 -10.6L21 -8.2L18.4 -5.3L14.5 -2.4L13.4 0L14.5 3.6L19.4 7.3Q21.3 9.6 20.3 11.4L17.4 13.1L14.5 12.1L11.6 8.2L7.3 4.4Z" fill="#5c5c5c"/>
<path d="M7.3 1.2H13.2L12.6 4.2H7.3Z" fill="#1e1e1e"/>
<path d="M9 -4.6L15 -10.6L17.6 -12" fill="none" stroke="#8a8a8a" stroke-width="0.9"/>
</g>
<g transform="translate(1181.8,463.9)">
<path d="M-13 -13.5H13V15H-13Z" fill="#fff"/>
<ellipse cx="0" cy="0" rx="33" ry="17" fill="#fff" fill-opacity="0.0"/>
<path d="M17 -9.4C26 -7.5 29.6 -3.4 29.6 0.2C29.6 3.8 26.5 6.8 19.5 8.6" fill="none" stroke="#f58a1f" stroke-width="3.3"/>
<path d="M-14.4 9.4C-24 7.2 -29 3.6 -29 -0.3C-29 -3.4 -26 -5.8 -19.6 -7" fill="none" stroke="#f58a1f" stroke-width="3.3"/>
<path d="M-13 -9.6L17.1 -16.9L16.4 -1.7Z" fill="#f58a1f"/>
<path d="M15.7 9L-14.8 2.1L-14.4 17Z" fill="#f58a1f"/>
</g>
<g transform="translate(1182,920.8)">
<path d="M-13 -13.5H13V15H-13Z" fill="#fff"/>
<ellipse cx="0" cy="0" rx="33" ry="17" fill="#fff" fill-opacity="0.0"/>
<path d="M17 -9.4C26 -7.5 29.6 -3.4 29.6 0.2C29.6 3.8 26.5 6.8 19.5 8.6" fill="none" stroke="#f58a1f" stroke-width="3.3"/>
<path d="M-14.4 9.4C-24 7.2 -29 3.6 -29 -0.3C-29 -3.4 -26 -5.8 -19.6 -7" fill="none" stroke="#f58a1f" stroke-width="3.3"/>
<path d="M-13 -9.6L17.1 -16.9L16.4 -1.7Z" fill="#f58a1f"/>
<path d="M15.7 9L-14.8 2.1L-14.4 17Z" fill="#f58a1f"/>
</g>
</svg>
</body>
</html>
